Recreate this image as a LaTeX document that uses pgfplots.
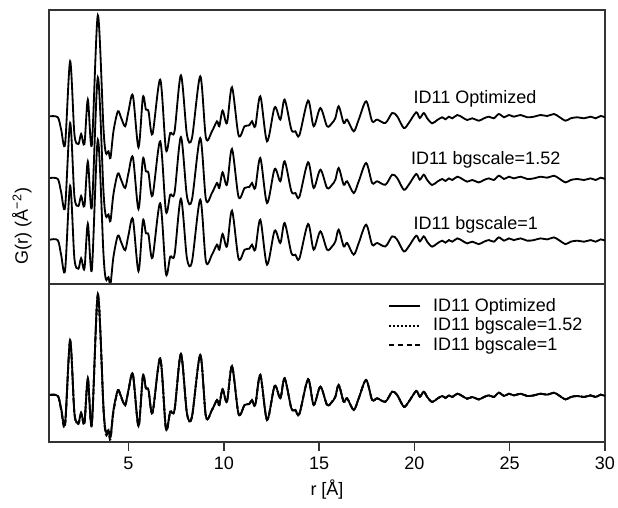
\documentclass[border=0pt]{standalone}
\usepackage{pgfplots}
\pgfplotsset{compat=1.18}
\usepackage{pgfplotstable}
\usepackage{fontspec}
\setmainfont{Liberation Sans}

% r [A], then G(r) of the three runs in the lower panel's units
\pgfplotstableread{
r      opt    bgb    bga
0.88   47.0   47.0   47.0
1.292  46.0   46.0   46.5
1.465  34.0   33.0   32.0
1.675  19.3   18.0   16.5
1.938  102.0  102.0  101.0
2.164  29.0   28.5   28.0
2.374  19.3   19.0   18.0
2.516  29.3   29.0   28.5
2.689  19.3   19.0   18.0
2.868  63.7   63.5   63.0
3.078  18.7   18.0   17.0
3.393  148.0  147.5  147.0
3.687  35.3   34.0   33.0
3.813  10.3   9.0    7.5
3.950  12.0   10.5   9.5
4.055  5.3    4.0    2.5
4.212  32.0   31.0   30.0
4.443  52.0   51.5   51.0
4.617  45.3   45.0   44.5
4.827  37.0   37.0   36.5
5.000  52.0   52.0   51.5
5.231  67.7   67.7   67.5
5.525  16.0   16.0   15.5
5.756  66.0   66.0   66.0
5.914  53.7   53.7   53.5
6.050  52.0   52.0   52.0
6.261  29.3   29.3   29.0
6.665  83.7   83.7   83.5
6.964  13.7   13.7   13.0
7.190  30.3   30.3   30.0
7.416  32.0   32.0   32.0
7.752  88.0   88.0   88.0
8.067  28.7   28.7   28.5
8.330  25.3   25.3   25.0
8.766  87.0   87.0   87.0
9.065  25.3   25.3   25.0
9.380  32.0   32.0   32.0
9.643  42.0   42.0   42.0
9.764  37.0   37.0   37.0
9.937  52.7   52.7   52.7
10.168 40.3   40.3   40.3
10.431 76.0   76.0   76.0
10.777 28.0   28.0   28.0
11.092 37.0   37.0   37.0
11.339 38.0   38.0   38.0
11.481 42.0   42.0   42.0
11.654 37.0   37.0   37.0
11.917 67.0   67.0   67.0
12.269 22.0   22.0   22.0
12.668 56.0   56.0   56.0
12.967 43.7   43.7   43.7
13.193 63.7   63.7   63.7
13.545 33.7   33.7   33.7
13.755 32.0   32.0   32.0
13.965 28.0   28.0   28.0
14.422 62.7   62.7   62.7
14.716 37.0   37.0   37.0
15.068 55.3   55.3   55.3
15.420 37.0   37.0   37.0
15.683 40.3   40.3   40.3
15.856 45.3   45.3   45.3
16.029 57.0   57.0   57.0
16.292 40.3   40.3   40.3
16.471 43.7   43.7   43.7
16.817 32.0   32.0   32.0
17.080 43.7   43.7   43.7
17.468 62.0   62.0   62.0
17.784 42.0   42.0   42.0
18.046 43.7   43.7   43.7
18.482 40.3   40.3   40.3
18.834 50.3   50.3   50.3
19.097 47.0   47.0   47.0
19.443 35.3   35.3   35.3
19.706 40.3   40.3   40.3
20.095 51.0   51.0   51.0
20.284 45.3   45.3   45.3
20.494 50.3   50.3   50.3
20.67  45.0   45.0   45.0
20.93  40.0   40.0   40.0
21.20  43.3   43.3   43.3
21.46  46.0   46.0   46.0
21.63  44.0   44.0   44.0
21.81  46.6   46.6   46.6
21.99  45.0   45.0   45.0
22.25  48.3   48.3   48.3
22.51  46.0   46.0   46.0
22.77  43.3   43.3   43.3
23.04  45.0   45.0   45.0
23.38  42.6   42.6   42.6
23.65  45.0   45.0   45.0
23.91  46.6   46.6   46.6
24.17  45.0   45.0   45.0
24.43  49.3   49.3   49.3
24.70  46.0   46.0   46.0
24.96  48.3   48.3   48.3
25.22  46.6   46.6   46.6
25.57  48.3   48.3   48.3
25.92  46.0   46.0   46.0
26.27  46.6   46.6   46.6
26.62  48.3   48.3   48.3
26.97  47.3   47.3   47.3
27.32  49.3   49.3   49.3
27.58  46.6   46.6   46.6
27.93  42.6   42.6   42.6
28.20  45.0   45.0   45.0
28.55  46.0   46.0   46.0
28.90  45.0   45.0   45.0
29.25  46.6   46.6   46.6
29.51  45.0   45.0   45.0
29.77  47.3   47.3   47.3
30.00  46.0   46.0   46.0
}\gr

\pgfplotsset{
  panel/.style={
    scale only axis, width=333.6pt,
    xmin=0.83, xmax=30,
    ytick=\empty,
    axis line style={line width=0.9pt, black!80},
    every axis plot/.append style={line width=1.1pt, black, smooth, tension=0.5},
    tick style={line width=0.9pt, black!80},
    /pgf/number format/assume math mode=true,
    ticklabel style={font=\fontsize{10.8}{13}\selectfont},
  },
}

\begin{document}
\begin{tikzpicture}[x=0.6pt,y=0.6pt]
\path[use as bounding box] (0,0) rectangle (618,508);

% upper panel: the three runs set apart
\begin{axis}[panel, at={(29.4pt,298.8pt)}, anchor=north west,
    height=164.4pt, ymin=0, ymax=274, xtick=\empty]
  \addplot[black] table[x=r, y expr=\thisrow{opt}+120.7] {\gr};
  \addplot[black] table[x=r, y expr=\thisrow{bgb}+59] {\gr};
  \addplot[black] table[x=r, y expr=\thisrow{bga}-2.7] {\gr};
\end{axis}

% lower panel: the three runs on top of each other
\begin{axis}[panel, at={(29.4pt,134.4pt)}, anchor=north west,
    height=94.8pt, ymin=0, ymax=158,
    xtick={5,10,15,20,25,30}, xtick pos=bottom,
    tick align=outside, major tick length=5.4pt,
    legend style={at={(0.60,0.945)}, anchor=north west, draw=none, fill=none,
      font=\fontsize{10.8}{13}\selectfont, row sep=0pt,
      nodes={inner ysep=1.2pt},
      /tikz/every odd column/.append style={column sep=5.4pt}},
    legend cell align=left,
    legend image code/.code={\draw[#1, sharp plot] (0pt,0pt) -- (18.6pt,0pt);},
  ]
  \addplot[black] table[x=r, y=opt] {\gr};
  \addlegendentry{ID11 Optimized}
  \addplot[black, dash pattern=on 1.2pt off 1.2pt] table[x=r, y=bgb] {\gr};
  \addlegendentry{ID11 bgscale=1.52}
  \addplot[black, dash pattern=on 3.3pt off 2pt] table[x=r, y=bga] {\gr};
  \addlegendentry{ID11 bgscale=1}
\end{axis}

\begin{scope}[every node/.style={font=\fontsize{10.8}{13}\selectfont}]
  \node[anchor=west, inner sep=0pt] at (413.3,408.7) {ID11 Optimized};
  \node[anchor=west, inner sep=0pt] at (410.7,348) {ID11 bgscale=1.52};
  \node[anchor=west, inner sep=0pt] at (413.3,283) {ID11 bgscale=1};
  \node at (327,18) {r [Å]};
  \node[rotate=90] at (22,282) {G(r) (Å\textsuperscript{−2})};
\end{scope}
\end{tikzpicture}
\end{document}
